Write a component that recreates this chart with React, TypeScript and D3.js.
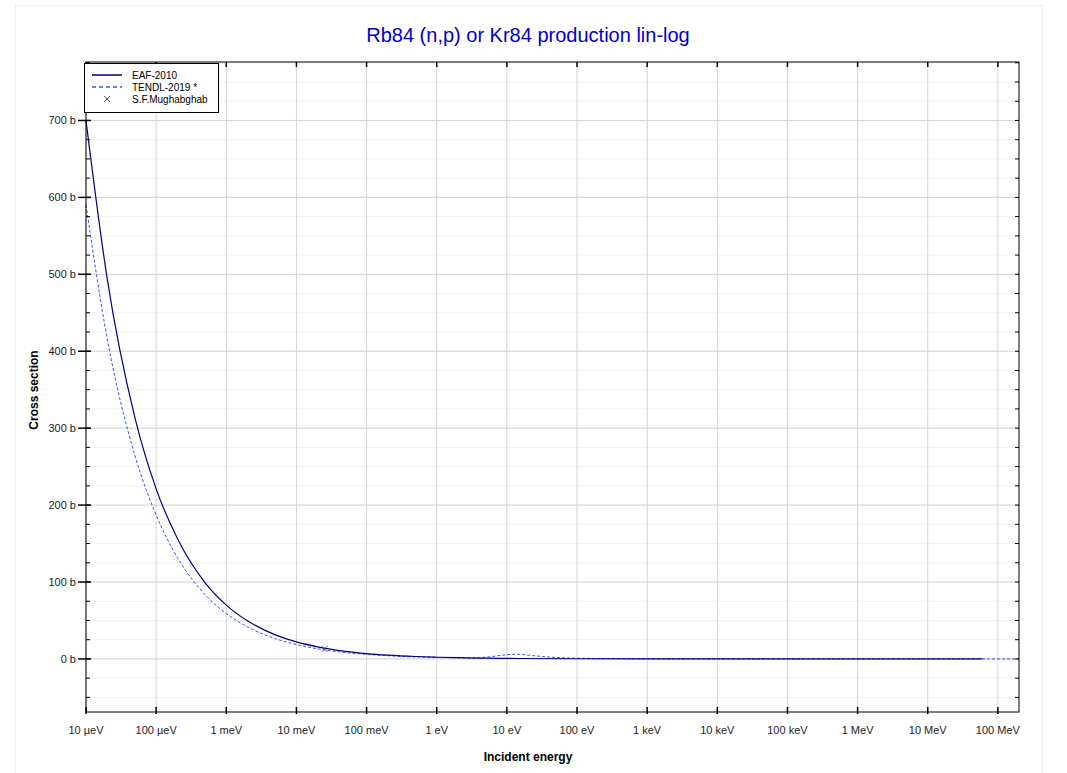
import React from "react";
import * as d3 from "d3";

const W = 1067;
const H = 773;
const M = { top: 62, right: 48, bottom: 61, left: 86 };
const FONT = "'Liberation Sans', Arial, sans-serif";

// energies in eV, cross sections in barns
const eafE = [1e-5, 2e-5, 5e-5, 1e-4, 2e-4, 5e-4, 1e-3, 2e-3, 5e-3, 1e-2, 2e-2, 5e-2, 0.1, 0.2, 0.5, 1, 2, 5, 10, 100, 1e3, 1e4, 1e5, 1e6, 1e7, 6e7];
const eafXs = [700, 495, 313, 221, 157, 99, 70, 49.5, 31.3, 22.1, 15.7, 9.9, 7, 4.95, 3.13, 2.2, 1.57, 0.99, 0.7, 0.22, 0.07, 0.02, 0.01, 0.005, 0.003, 0.002];

const tendlE = [1e-5, 2e-5, 5e-5, 1e-4, 2e-4, 5e-4, 1e-3, 2e-3, 5e-3, 1e-2, 2.53e-2, 5e-2, 0.1, 0.2, 0.5, 1, 2, 3, 4, 6, 8, 10, 13, 17, 25, 40, 60, 100, 300, 1e3, 1e4, 1e5, 1e6, 1e7, 2e8];
const tendlXs = [590, 417, 264, 187, 132, 83.5, 59, 41.7, 26.4, 18.7, 11.7, 8.3, 5.9, 4.2, 2.6, 1.9, 1.4, 1.3, 1.6, 3, 4.5, 5.4, 6, 5.6, 4, 2.5, 1.5, 0.9, 0.5, 0.3, 0.1, 0.05, 0.02, 0.01, 0.01];

const expE = [0.0253];
const expXs = [13];

const xTickVals = [1e-5, 1e-4, 1e-3, 1e-2, 1e-1, 1, 10, 100, 1e3, 1e4, 1e5, 1e6, 1e7, 1e8];
const xTickLabels = ["10 µeV", "100 µeV", "1 meV", "10 meV", "100 meV", "1 eV", "10 eV", "100 eV", "1 keV", "10 keV", "100 keV", "1 MeV", "10 MeV", "100 MeV"];
const yTickVals = [0, 100, 200, 300, 400, 500, 600, 700];
const yMinorVals = d3.range(-50, 776, 25);

const xDomain: [number, number] = [1e-5, 2e8];
const yDomain: [number, number] = [-69, 776];

export default function App() {
  const x = d3.scaleLog().domain(xDomain).range([M.left, W - M.right]);
  const y = d3.scaleLinear().domain(yDomain).range([H - M.bottom, M.top]);
  const x0 = M.left, x1 = W - M.right, y0 = M.top, y1 = H - M.bottom;

  const line = d3
    .line<[number, number]>()
    .x((d) => x(d[0]))
    .y((d) => y(d[1]))
    .curve(d3.curveMonotoneX);

  const eaf = eafE.map((e, i) => [e, eafXs[i]] as [number, number]);
  const tendl = tendlE.map((e, i) => [e, tendlXs[i]] as [number, number]);

  return (
    <svg width={W} height={H} style={{ position: "absolute", left: 0, top: 0, background: "#fff" }} fontFamily={FONT}>
      <rect x={15.5} y={5.5} width={1027} height={H} fill="none" stroke="#eeeeee" />
      <text x={528} y={42} textAnchor="middle" fontSize={20} fill="#0000cc">
        Rb84 (n,p) or Kr84 production lin-log
      </text>

      {/* grid */}
      {yMinorVals.map((v) => (
        <line key={"ym" + v} x1={x0} x2={x1} y1={y(v)} y2={y(v)} stroke="#f2f2f2" />
      ))}
      {yTickVals.map((v) => (
        <line key={"yg" + v} x1={x0} x2={x1} y1={y(v)} y2={y(v)} stroke="#d4d4d4" />
      ))}
      {xTickVals.map((v) => (
        <line key={"xg" + v} x1={x(v)} x2={x(v)} y1={y0} y2={y1} stroke="#d4d4d4" />
      ))}

      {/* curves */}
      <path d={line(tendl) || ""} fill="none" stroke="#3355ee" strokeWidth={1} strokeDasharray="3,2" />
      <path d={line(eaf) || ""} fill="none" stroke="#000080" strokeWidth={1.2} />
      {expE.map((e, i) => {
        const cx = x(e), cy = y(expXs[i]);
        return (
          <g key={"ex" + i} stroke="#444" strokeWidth={0.8}>
            <line x1={cx - 3} x2={cx + 3} y1={cy - 3} y2={cy + 3} />
            <line x1={cx - 3} x2={cx + 3} y1={cy + 3} y2={cy - 3} />
          </g>
        );
      })}

      {/* frame */}
      <rect x={x0} y={y0} width={x1 - x0} height={y1 - y0} fill="none" stroke="#000" strokeWidth={1} />

      {/* y ticks */}
      {yMinorVals.map((v) => (
        <g key={"yt" + v}>
          <line x1={x0} x2={x0 + 4} y1={y(v)} y2={y(v)} stroke="#000" />
          <line x1={x1 - 4} x2={x1} y1={y(v)} y2={y(v)} stroke="#000" />
        </g>
      ))}
      {yTickVals.map((v) => (
        <g key={"yl" + v}>
          <line x1={x0 - 8} x2={x0 + 5} y1={y(v)} y2={y(v)} stroke="#000" strokeWidth={1.5} />
          <text x={x0 - 10} y={y(v) + 4} textAnchor="end" fontSize={11} fill="#222">
            {v} b
          </text>
        </g>
      ))}

      {/* x ticks */}
      {xTickVals.map((v, i) => (
        <g key={"xt" + v}>
          <line x1={x(v)} x2={x(v)} y1={y1 - 5} y2={y1 + 2} stroke="#000" strokeWidth={1.5} />
          <line x1={x(v)} x2={x(v)} y1={y0} y2={y0 + 5} stroke="#000" strokeWidth={1.5} />
          <text x={x(v)} y={y1 + 22} textAnchor="middle" fontSize={11} fill="#222">
            {xTickLabels[i]}
          </text>
        </g>
      ))}

      <text x={528} y={761} textAnchor="middle" fontSize={12} fontWeight="bold" fill="#000">
        Incident energy
      </text>
      <text transform={`translate(38,390) rotate(-90)`} textAnchor="middle" fontSize={12} fontWeight="bold" fill="#000">
        Cross section
      </text>

      {/* legend */}
      <g>
        <rect x={84.5} y={63.5} width={134} height={49} fill="#fff" stroke="#000" />
        <line x1={92} x2={122} y1={75} y2={75} stroke="#000080" strokeWidth={1.5} />
        <text x={132} y={78.5} fontSize={10} fill="#000">EAF-2010</text>
        <line x1={92} x2={122} y1={87} y2={87} stroke="#3355ee" strokeWidth={1.5} strokeDasharray="4,3" />
        <text x={132} y={90.5} fontSize={10} fill="#000">TENDL-2019 *</text>
        <g stroke="#333" strokeWidth={0.8}>
          <line x1={104} x2={110} y1={96} y2={102} />
          <line x1={104} x2={110} y1={102} y2={96} />
        </g>
        <text x={132} y={102.5} fontSize={10} fill="#000">S.F.Mughabghab</text>
      </g>
    </svg>
  );
}
